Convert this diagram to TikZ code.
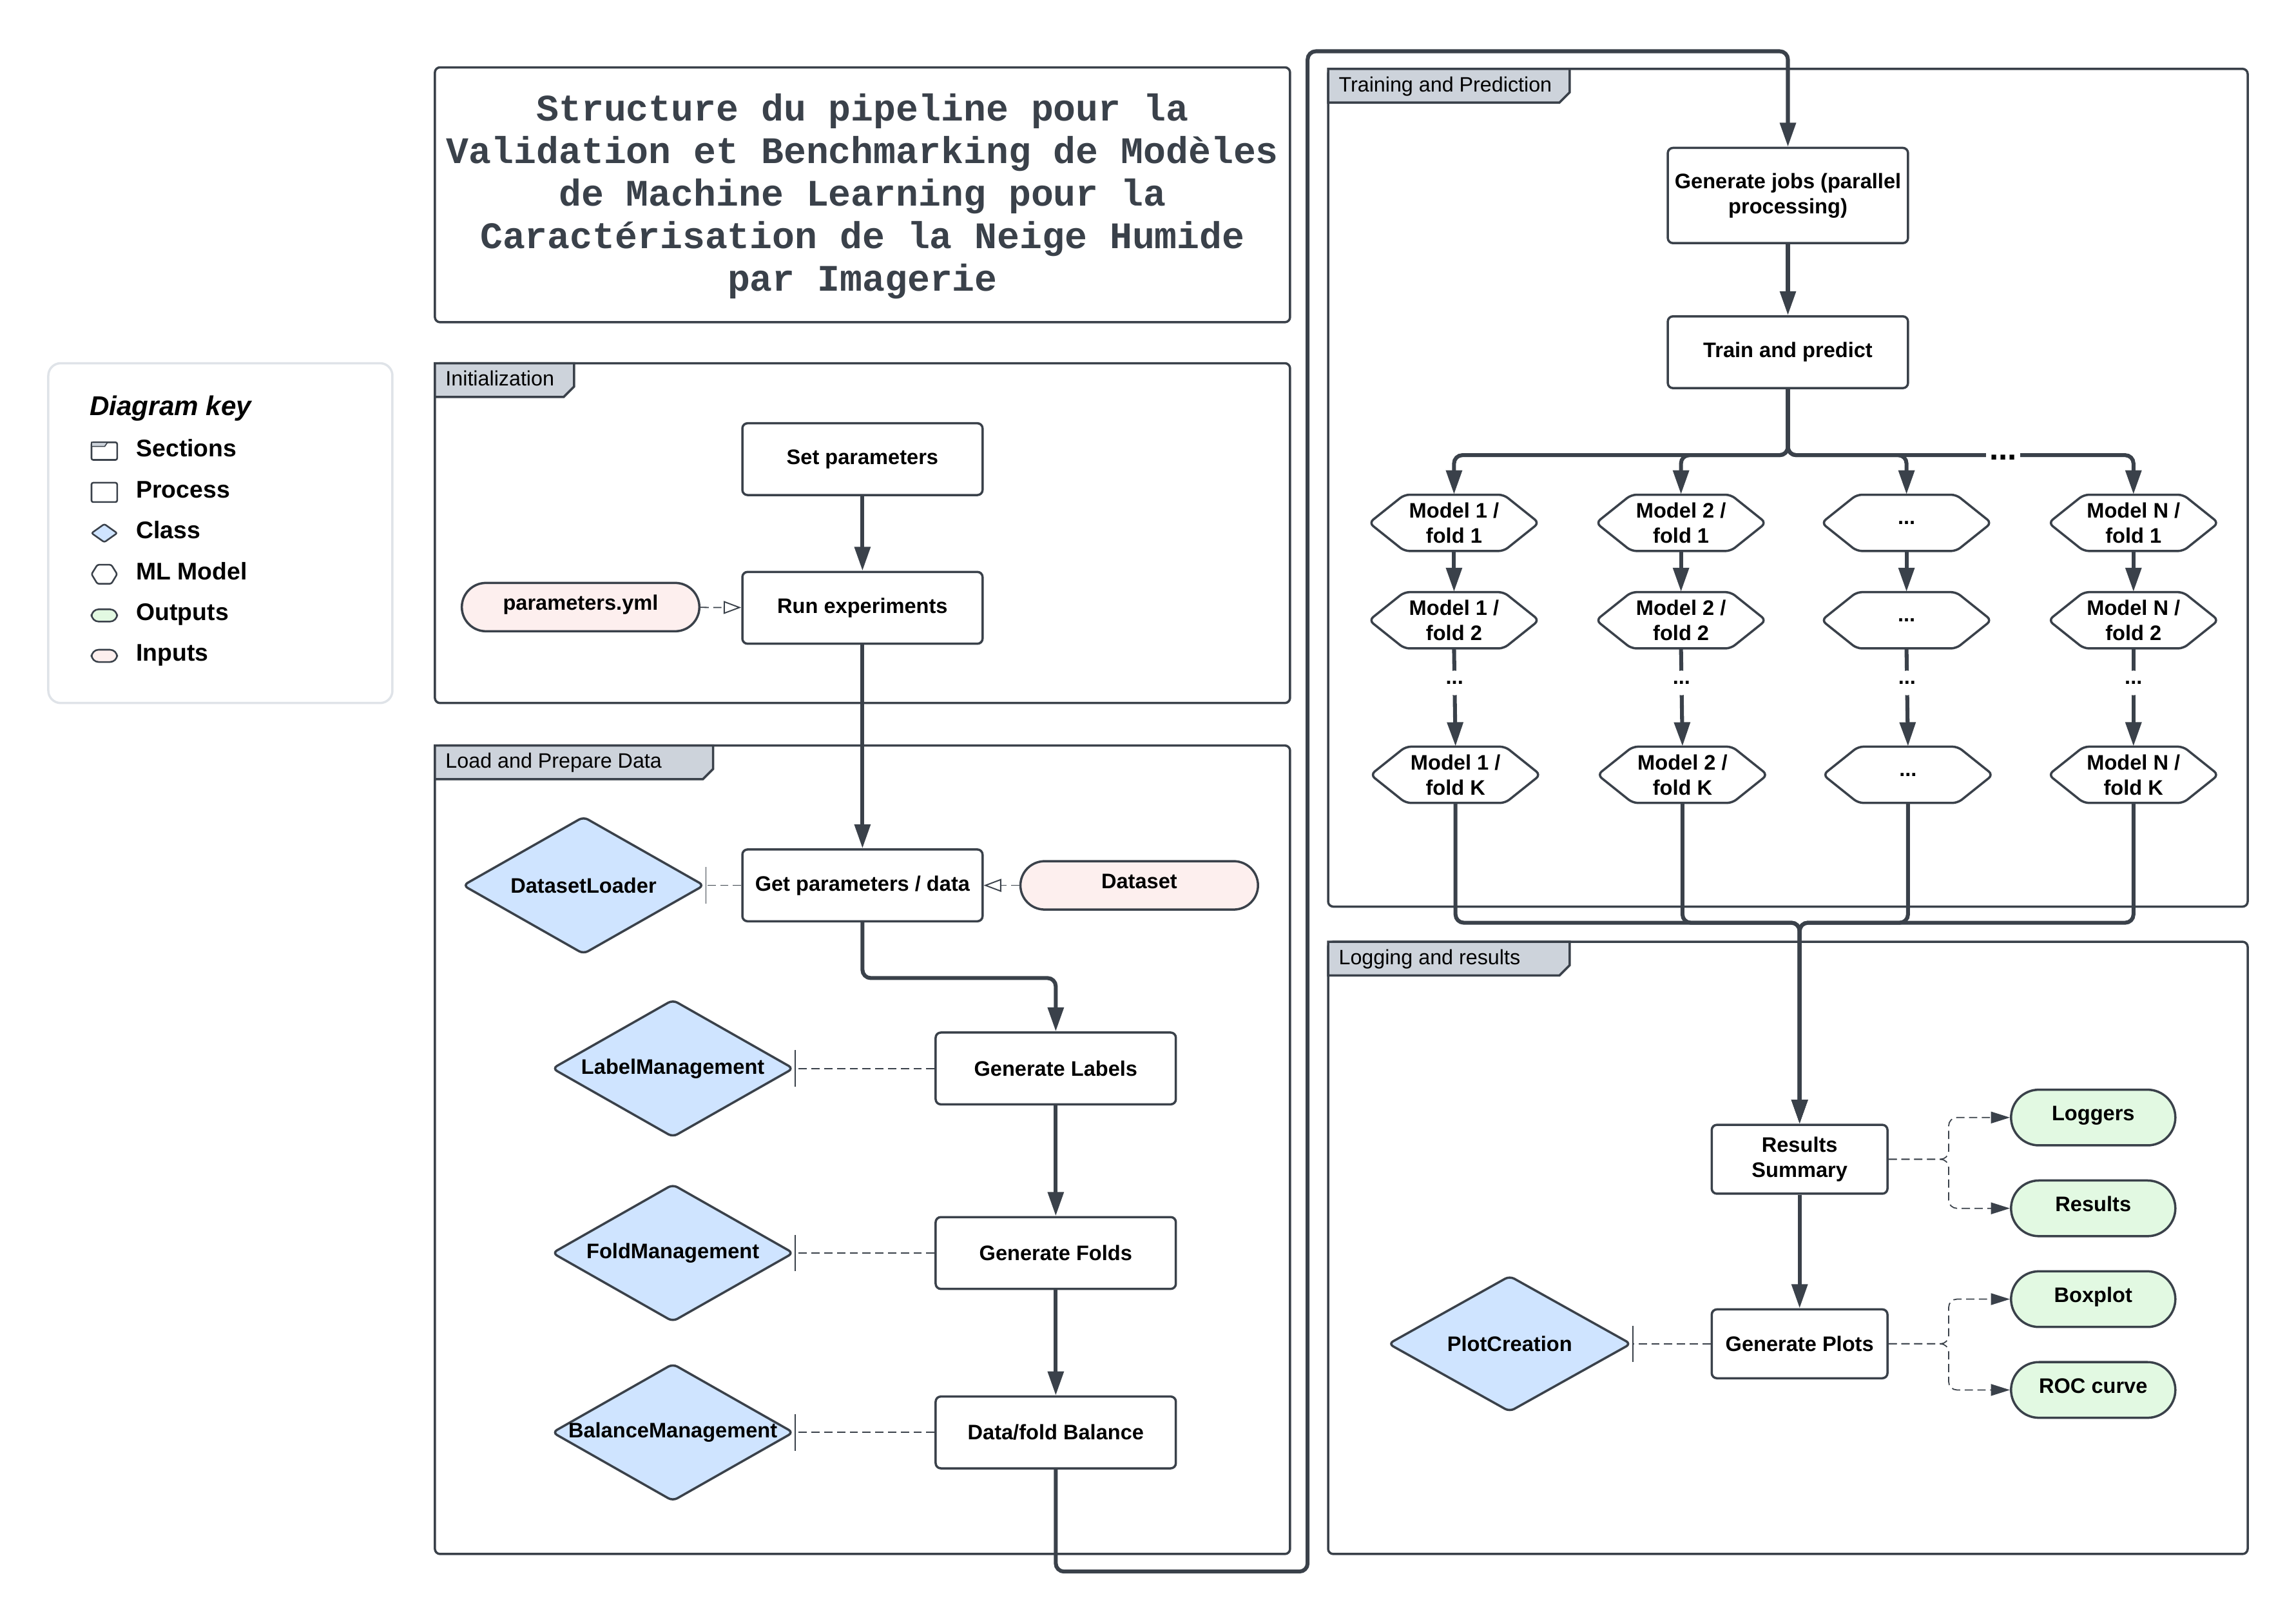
\documentclass[tikz,border=0pt]{standalone}
\usepackage{fontspec}
\setmainfont{Liberation Sans}
\newfontfamily\titlemono{Liberation Mono}
\usetikzlibrary{shapes.geometric,shapes.misc,arrows.meta}

\definecolor{ink}{HTML}{3A414A}
\definecolor{tabgray}{HTML}{CDD3DB}
\definecolor{classblue}{HTML}{CFE4FF}
\definecolor{infill}{HTML}{FDEFEE}
\definecolor{outfill}{HTML}{E2F9E2}
\definecolor{keyrim}{HTML}{DFE3E8}

% section frame with its grey tab: x0, y0, x1, y1, tab right edge, label, label name
\newcommand\frameblock[7]{%
  \draw[frameline, rounded corners=2.5pt] (#1,#2) rectangle (#3,#4);
  \draw[frameline, fill=tabgray] (#1,#2) -- (#5,#2) -- (#5,{#2+16}) -- ({#5-7},{#2+23}) -- (#1,{#2+23}) -- cycle;
  \node[tablabel] (#7) at ({#1+7},{#2+15.5}) {#6};}

% ML model hexagon: name, x, y, text
\newcommand\mlhex[4]{%
  \draw[hexline] ({#2-58},#3) -- ({#2-34},{#3-19.2}) -- ({#2+34},{#3-19.2}) -- ({#2+58},#3) -- ({#2+34},{#3+19.2}) -- ({#2-34},{#3+19.2}) -- cycle;
  \node[hexlabel] (#1) at (#2,#3) {#4};}

\begin{document}
\begin{tikzpicture}[x=0.025cm,y=-0.025cm,
  frameline/.style={draw=ink, line width=1.1pt},
  tablabel/.style={anchor=base west, font=\fontsize{10.1}{12}\selectfont, text=black, inner sep=0pt},
  nodefont/.style={font=\fontsize{10.2}{12.1}\selectfont\bfseries},
  proc/.style={draw=ink, line width=1.1pt, fill=white, rounded corners=2.5pt, align=center, nodefont, inner sep=1pt, minimum width=4.1cm, minimum height=1.225cm},
  classd/.style={diamond, draw=ink, line width=1.1pt, fill=classblue, rounded corners=2.5pt, inner sep=0pt, minimum width=4.125cm, minimum height=2.35cm},
  classtext/.style={nodefont, inner sep=0pt},
  pilltext/.style={nodefont, text height=0.75em, text depth=0.45em, inner sep=1pt},
  inpill/.style={rounded rectangle, draw=ink, line width=1.1pt, fill=infill, pilltext, minimum width=4.125cm, minimum height=0.825cm},
  outpill/.style={rounded rectangle, draw=ink, line width=1.1pt, fill=outfill, pilltext, minimum width=2.875cm, minimum height=0.95cm},
  hexline/.style={draw=ink, line width=1.1pt, fill=white, rounded corners=2.5pt},
  hexlabel/.style={nodefont, align=center, inner sep=0pt, minimum width=2.9cm, minimum height=0.96cm},
  flow/.style={draw=ink, line width=1.9pt, rounded corners=4pt, -{Triangle[length=0.41cm, width=0.265cm]}},
  dashin/.style={draw=ink, line width=0.55pt, dash pattern=on 4pt off 2.2pt, -{Triangle[open, length=0.3cm, width=0.22cm, line width=0.6pt]}},
  dashout/.style={draw=ink, line width=0.55pt, dash pattern=on 4pt off 2.2pt, rounded corners=4pt, -{Triangle[length=0.325cm, width=0.2cm]}},
  dashcls/.style={draw=ink, line width=0.55pt, dash pattern=on 4pt off 2.2pt, -{Bar[width=0.62cm, line width=0.45pt]}},
  gapdots/.style={fill=white, nodefont, inner sep=0pt, minimum height=0.42cm, minimum width=0.3cm},
  keylabel/.style={anchor=base west, font=\fontsize{11.7}{14}\selectfont\bfseries, inner sep=0pt},
  keyicon/.style={draw=ink, line width=0.8pt, rounded corners=0.8pt}
]
\useasboundingbox (0,0) rectangle (1568,1108);

% ---------- title ----------
\draw[frameline, rounded corners=2.5pt] (297,46) rectangle (881,220);
\node[align=center, text=ink, inner sep=0pt, font=\titlemono\bfseries\fontsize{18.2}{20.6}\selectfont] (title) at (589,134)
  {Structure du pipeline pour la\\Validation et Benchmarking de Modèles\\de Machine Learning pour la\\Caractérisation de la Neige Humide\\par Imagerie};

% ---------- sections ----------
\frameblock{297}{248}{881}{480}{392}{Initialization}{secinit}
\frameblock{297}{509}{881}{1061}{487}{Load and Prepare Data}{secload}
\frameblock{907}{47}{1535}{619}{1072}{Training and Prediction}{sectrain}
\frameblock{907}{643}{1535}{1061}{1072}{Logging and results}{seclog}

% ---------- diagram key ----------
\draw[draw=keyrim, line width=1.1pt, rounded corners=6pt] (33,248) rectangle (268,480);
\node[anchor=base west, inner sep=0pt, font=\fontsize{13.2}{15}\selectfont\bfseries\itshape] (keytitle) at (61,283.5) {Diagram key};
\draw[keyicon] (62.5,302) rectangle (80,314);
\draw[draw=ink, fill=tabgray, line width=0.5pt] (62.5,302) -- (73.5,302) -- (71.5,304.8) -- (62.5,304.8) -- cycle;
\draw[keyicon] (62.5,329.6) rectangle (80,342.8);
\draw[keyicon, fill=classblue] (62.5,364) -- (71.25,357.8) -- (80,364) -- (71.25,370.2) -- cycle;
\draw[keyicon] (62.5,392) -- (66.5,385.6) -- (76,385.6) -- (80,392) -- (76,398.6) -- (66.5,398.6) -- cycle;
\draw[keyicon, fill=outfill, rounded corners=3.5pt] (62.5,416) rectangle (80,424.4);
\draw[keyicon, fill=infill, rounded corners=3.5pt] (62.5,443.6) rectangle (80,452);
\node[keylabel] (keysec) at (92.8,312) {Sections};
\node[keylabel] (keyproc) at (92.8,340) {Process};
\node[keylabel] (keyclass) at (92.8,367.8) {Class};
\node[keylabel] (keyml) at (92.8,395.7) {ML Model};
\node[keylabel] (keyout) at (92.8,423.6) {Outputs};
\node[keylabel] (keyin) at (92.8,451.5) {Inputs};

% ---------- initialization ----------
\node[proc] (sp) at (589,313.5) {Set parameters};
\node[proc] (re) at (589,415) {Run experiments};
\node[inpill] (py) at (396.5,414.5) {parameters.yml};

% ---------- load and prepare data ----------
\node[proc] (gp) at (589,604.5) {Get parameters / data};
\node[classd] (dl) at (398.5,604.5) {};
\node[classtext] (dlt) at (dl) {DatasetLoader};
\node[inpill] (ds) at (778,604.5) {Dataset};
\node[proc] (gl) at (721,729.5) {Generate Labels};
\node[classd] (lm) at (459.5,729.5) {};
\node[classtext] (lmt) at (lm) {LabelManagement};
\node[proc] (gf) at (721,855.5) {Generate Folds};
\node[classd] (fm) at (459.5,855.5) {};
\node[classtext] (fmt) at (fm) {FoldManagement};
\node[proc] (db) at (721,978) {Data/fold Balance};
\node[classd] (bm) at (459.5,978) {};
\node[classtext] (bmt) at (bm) {BalanceManagement};

% ---------- training and prediction ----------
\node[proc, minimum height=1.625cm] (gj) at (1221,133.5) {Generate jobs (parallel\\processing)};
\node[proc] (tp) at (1221,240.5) {Train and predict};
\mlhex{m11}{993}{357}{Model 1 /\\fold 1}
\mlhex{m21}{1148}{357}{Model 2 /\\fold 1}
\mlhex{m31}{1302}{357}{...}
\mlhex{mN1}{1457}{357}{Model N /\\fold 1}
\mlhex{m12}{993}{423.5}{Model 1 /\\fold 2}
\mlhex{m22}{1148}{423.5}{Model 2 /\\fold 2}
\mlhex{m32}{1302}{423.5}{...}
\mlhex{mN2}{1457}{423.5}{Model N /\\fold 2}
\mlhex{m1K}{994}{529}{Model 1 /\\fold K}
\mlhex{m2K}{1149}{529}{Model 2 /\\fold K}
\mlhex{m3K}{1303}{529}{...}
\mlhex{mNK}{1457}{529}{Model N /\\fold K}

% ---------- logging and results ----------
\node[proc, minimum width=3cm, minimum height=1.175cm] (rs) at (1229,791.5) {Results\\Summary};
\node[proc, minimum width=3cm, minimum height=1.175cm] (gpl) at (1229,917.5) {Generate Plots};
\node[classd, minimum width=4.15cm, minimum height=2.325cm] (pc) at (1031,917.5) {};
\node[classtext] (pct) at (pc) {PlotCreation};
\node[outpill] (lg) at (1429.5,763) {Loggers};
\node[outpill] (rt) at (1429.5,825) {Results};
\node[outpill] (bx) at (1429.5,887) {Boxplot};
\node[outpill] (roc) at (1429.5,949) {ROC curve};

% ---------- connectors ----------
\coordinate (loopA) at (893,1073);
\coordinate (loopB) at (893,35);
\coordinate (merge) at (1229,630);

\draw[flow] (sp) -- (re);
\draw[dashin] (py) -- (re);
\draw[flow] (re) -- (gp);
\draw[dashcls] (gp.west) -- (dl.east);
\draw[dashin] (ds) -- (gp);
\draw[flow] (gp.south) -- ++(0,38) -| (gl.north);
\draw[dashcls] (gl.west) -- (lm.east);
\draw[flow] (gl) -- (gf);
\draw[dashcls] (gf.west) -- (fm.east);
\draw[flow] (gf) -- (db);
\draw[dashcls] (db.west) -- (bm.east);
\draw[flow] (db.south) |- (loopA) -- (loopB) -| (gj.north);

\draw[flow] (gj) -- (tp);
\foreach \m in {m11,m21,m31,mN1}
  \draw[flow] (tp.south) -- ++(0,45) -| (\m.north);
\node[fill=white, inner xsep=1.5pt, inner ysep=0pt, minimum height=0.3cm, font=\fontsize{16}{16}\selectfont\bfseries] (branchdots) at (1368,312.5) {...};
\foreach \a/\b in {m11/m12,m21/m22,m31/m32,mN1/mN2}
  \draw[flow] (\a) -- (\b);
\foreach \a/\b in {m12/m1K,m22/m2K,m32/m3K,mN2/mNK}
  \draw[flow] (\a.south) -- node[gapdots, pos=0.35] {...} (\b.north);
\foreach \m in {m1K,m2K,m3K,mNK}
  \draw[flow] (\m.south) |- (merge) -- (rs.north);

\draw[flow] (rs) -- (gpl);
\draw[dashcls] (gpl.west) -- (pc.east);
\draw[dashout] (rs.east) -- ++(41,0) |- (lg.west);
\draw[dashout] (rs.east) -- ++(41,0) |- (rt.west);
\draw[dashout] (gpl.east) -- ++(41,0) |- (bx.west);
\draw[dashout] (gpl.east) -- ++(41,0) |- (roc.west);
\end{tikzpicture}
\end{document}
